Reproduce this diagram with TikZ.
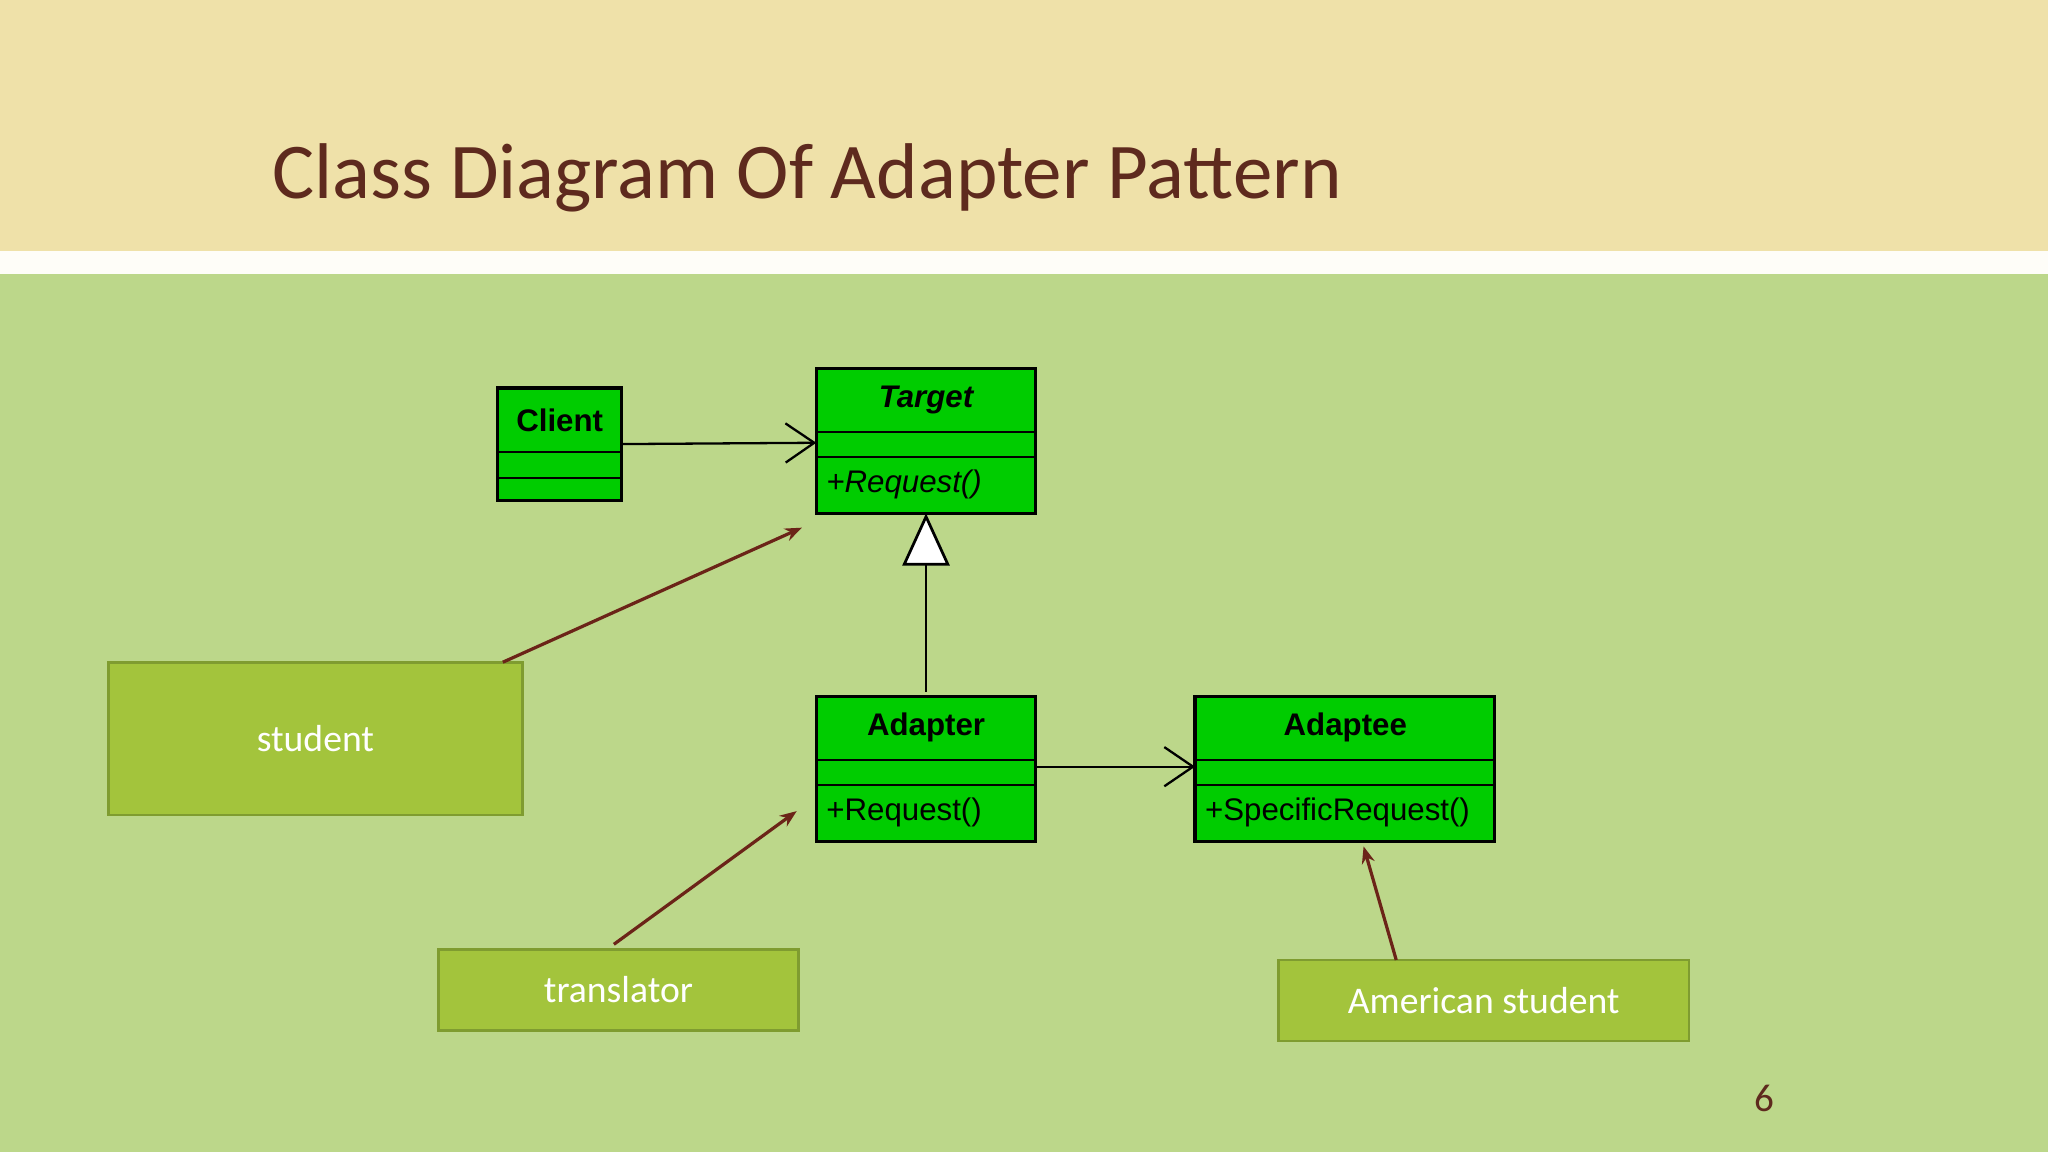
\documentclass[tikz,border=0pt]{standalone}
\usepackage{fontspec}
\setmainfont{Carlito}
\newfontfamily\arialf{Liberation Sans}
\usetikzlibrary{arrows.meta}
\definecolor{beige}{HTML}{EFE1A9}
\definecolor{bggreen}{HTML}{BCD78A}
\definecolor{umlgreen}{HTML}{00CC00}
\definecolor{lblfill}{HTML}{A3C43C}
\definecolor{lbldraw}{HTML}{7F9C30}
\definecolor{titlec}{HTML}{5E2A1E}
\definecolor{linkc}{HTML}{6B2418}
\tikzset{
 uml/.style={draw=black,fill=umlgreen,line width=0.7pt},
 lbl/.style={draw=lbldraw,fill=lblfill,line width=0.6pt,text=white,font=\fontsize{8.2}{10}\selectfont},
 assoc/.style={-{Straight Barb[length=2.2mm,width=3mm]},line width=0.5pt},
 link/.style={-{Stealth[length=1.3mm,width=1mm]},draw=linkc,line width=0.7pt},
 umltxt/.style={font=\arialf\fontsize{6.8}{8}\selectfont}
}
\begin{document}
\begin{tikzpicture}[x=0.01cm,y=-0.01cm]
\useasboundingbox (0,0) rectangle (1568,882);
\fill[bggreen] (0,0) rectangle (1568,882);
\fill[beige] (0,0) rectangle (1568,192);
\fill[white!92!beige] (0,192) rectangle (1568,210);
\node[anchor=base west,text=titlec,font=\fontsize{17.2}{21}\selectfont,inner sep=0] (title) at (208,152) {Class Diagram Of Adapter Pattern};
% Client
\draw[uml] (381,297) rectangle (476,383);
\draw (381,346) -- (476,346) (381,366) -- (476,366);
\node[font=\arialf\bfseries\fontsize{6.8}{8}\selectfont] (client) at (428.5,322) {Client};
\coordinate (clientE) at (476,340);
% Target
\draw[uml] (625,282) rectangle (793,393);
\draw (625,331) -- (793,331) (625,350) -- (793,350);
\node[font=\arialf\bfseries\itshape\fontsize{6.8}{8}\selectfont] (target) at (709,306) {Target};
\node[font=\arialf\itshape\fontsize{6.8}{8}\selectfont,anchor=west,inner sep=0] (treq) at (632,371) {+Request()};
\coordinate (targetW) at (625,339);
\coordinate (targetS) at (709,393);
% Adapter
\draw[uml] (625,533) rectangle (793,644);
\draw (625,582) -- (793,582) (625,601) -- (793,601);
\node[font=\arialf\bfseries\fontsize{6.8}{8}\selectfont] (adapter) at (709,557) {Adapter};
\node[umltxt,anchor=west,inner sep=0] (areq) at (632,622) {+Request()};
\coordinate (adapterN) at (709,530);
\coordinate (adapterE) at (793,587);
% Adaptee
\draw[uml] (915,533) rectangle (1144,644);
\draw (915,582) -- (1144,582) (915,601) -- (1144,601);
\node[font=\arialf\bfseries\fontsize{6.8}{8}\selectfont] (adaptee) at (1030,557) {Adaptee};
\node[umltxt,anchor=west,inner sep=0] (sreq) at (922,622) {+SpecificRequest()};
\coordinate (adapteeW) at (915,587);
% UML connectors
\draw[assoc] (clientE) -- (targetW);
\draw[assoc] (adapterE) -- (adapteeW);
\draw[line width=0.6pt,-{Triangle[open,fill=white,length=4mm,width=3.6mm]}] (adapterN) -- (targetS);
% labels
\node[lbl,minimum width=3.17cm,minimum height=1.17cm] (student) at (241.5,565.5) {student};
\node[lbl,minimum width=2.75cm,minimum height=0.62cm] (translator) at (473.5,758) {translator};
\node[lbl,minimum width=3.14cm,minimum height=0.62cm] (american) at (1136,766) {American student};
\coordinate (s1) at (385,507); \coordinate (s2) at (614,404);
\coordinate (t1) at (470,723); \coordinate (t2) at (610,621);
\coordinate (a1) at (1069,735); \coordinate (a2) at (1044,648);
\draw[link] (s1) -- (s2);
\draw[link] (t1) -- (t2);
\draw[link] (a1) -- (a2);
\node[text=titlec,font=\fontsize{8.5}{10}\selectfont] (page) at (1351,841) {6};
\end{tikzpicture}
\end{document}
